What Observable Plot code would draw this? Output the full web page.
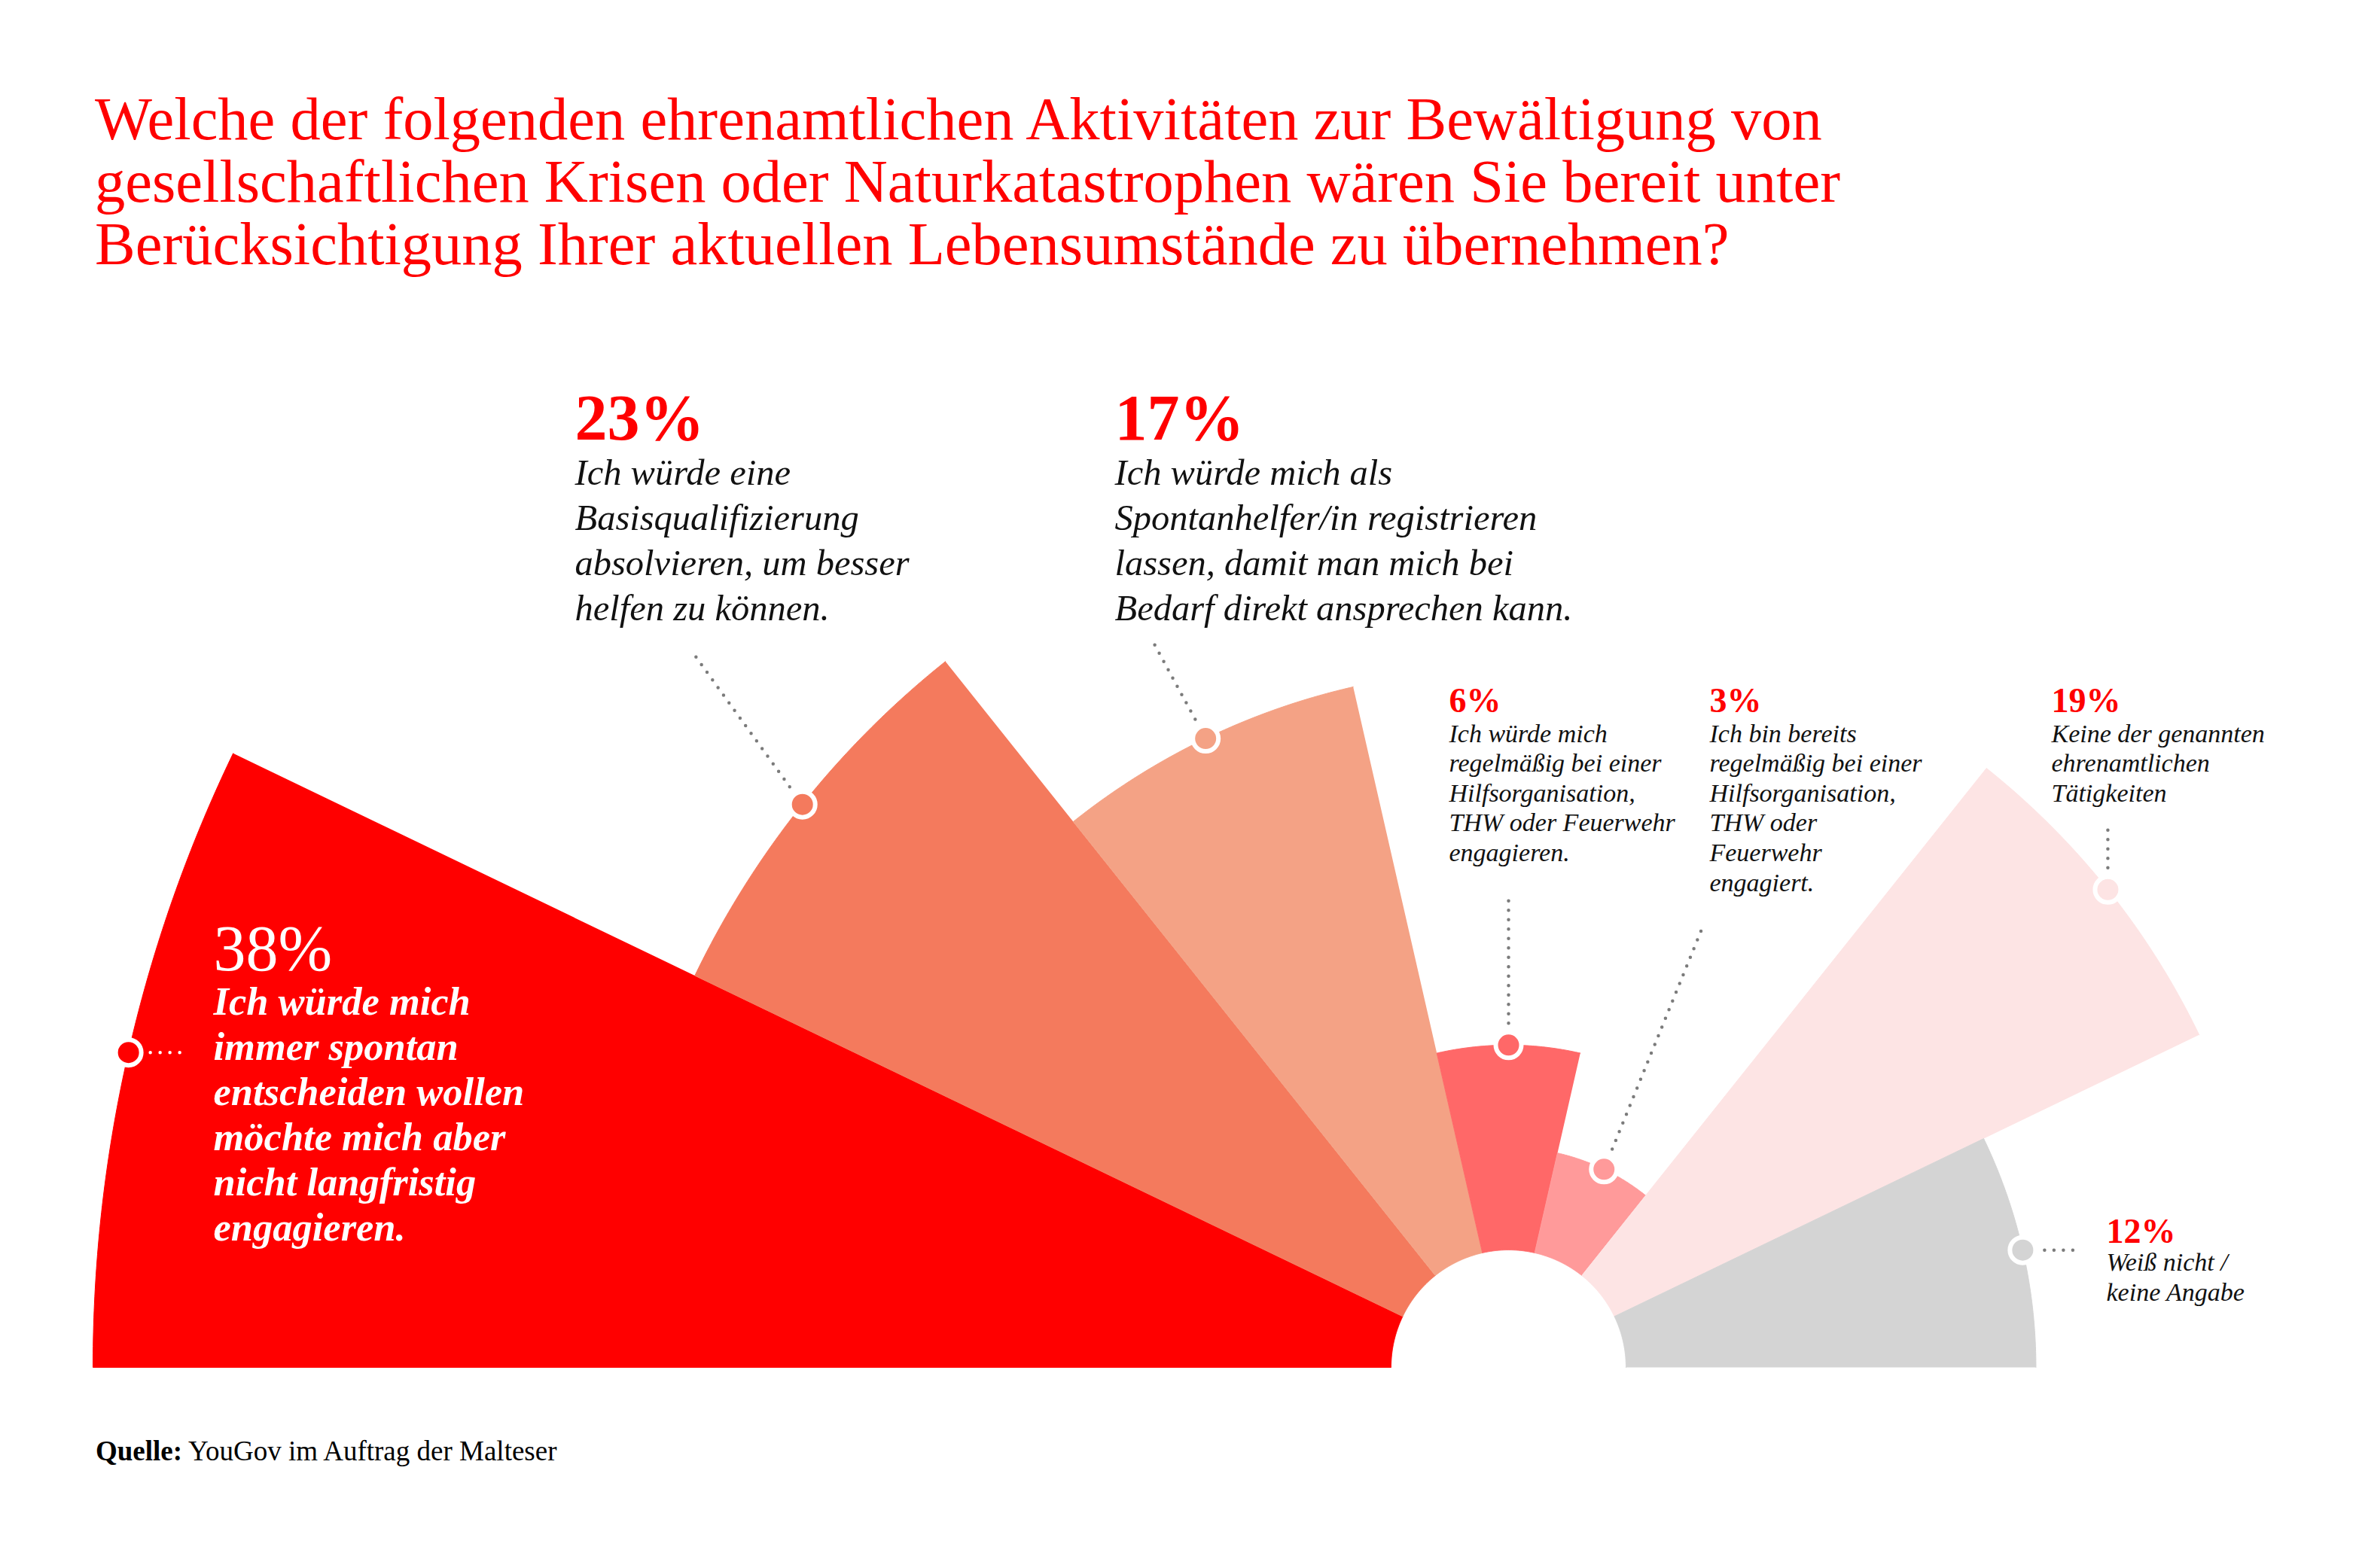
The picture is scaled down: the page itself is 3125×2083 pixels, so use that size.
<!DOCTYPE html>
<html>
<head>
<meta charset="utf-8">
<script src="https://cdn.jsdelivr.net/npm/d3@7"></script>
<script src="https://cdn.jsdelivr.net/npm/@observablehq/plot@0.6"></script>
<style>
  html, body { margin: 0; padding: 0; background: #fff; }
  #page { width: 3125px; height: 2083px; position: relative; background: #fff; }
  #title { box-sizing: border-box; height: 440px; padding: 116px 0 0 126px; font-family: "Liberation Serif", serif; font-size: 80.5px; line-height: 83px; color: #ff0000; white-space: nowrap; }
  #chart svg { display: block; }
  #caption { padding: 30px 0 0 127px; font-family: "Liberation Serif", serif; font-size: 37px; line-height: 36px; color: #000; }
</style>
</head>
<body>
<div id="page">
  <div id="title">Welche der folgenden ehrenamtlichen Aktivitäten zur Bewältigung von<br>gesellschaftlichen Krisen oder Naturkatastrophen wären Sie bereit unter<br>Berücksichtigung Ihrer aktuellen Lebensumstände zu übernehmen?</div>
  <div id="chart"></div>
  <div id="caption"><b>Quelle:</b> YouGov im Auftrag der Malteser</div>
</div>
<script>
// ---------- data ----------
const categories = [
  "spontan",
  "Basisqualifizierung",
  "Spontanhelfer",
  "regelmäßig",
  "bereits",
  "keine",
  "weiß nicht"
];
const values = [38, 23, 17, 6, 3, 19, 12];
const percentLabels = ["38%", "23%", "17%", "6%", "3%", "19%", "12%"];
const descriptions = [
  ["Ich würde mich", "immer spontan", "entscheiden wollen", "möchte mich aber", "nicht langfristig", "engagieren."],
  ["Ich würde eine", "Basisqualifizierung", "absolvieren, um besser", "helfen zu können."],
  ["Ich würde mich als", "Spontanhelfer/in registrieren", "lassen, damit man mich bei", "Bedarf direkt ansprechen kann."],
  ["Ich würde mich", "regelmäßig bei einer", "Hilfsorganisation,", "THW oder Feuerwehr", "engagieren."],
  ["Ich bin bereits", "regelmäßig bei einer", "Hilfsorganisation,", "THW oder", "Feuerwehr", "engagiert."],
  ["Keine der genannten", "ehrenamtlichen", "Tätigkeiten"],
  ["Weiß nicht /", "keine Angabe"]
];

// ---------- styles & layout ----------
const palette = ["#ff0000", "#f47a5d", "#f4a285", "#ff6868", "#ff9a9a", "#fde4e4", "#d4d4d4"];
const W = 3125, H = 1440, SVG_TOP = 440;
const CX = 2003, CY = 1816;          // page position of the chart centre
const INNER = 156, OUTER = 1880;     // radii in px
const FONT = "Liberation Serif";
// label blocks (page coordinates): x, baseline of percentage, first body baseline, line step, size
const labelLayout = [
  {x: 283,  pct: 1288, body: 1347, step: 60,  size: "big",   tone: "light"},
  {x: 763,  pct: 583,  body: 643,  step: 60,  size: "big",   tone: "dark"},
  {x: 1480, pct: 583,  body: 643,  step: 60,  size: "big",   tone: "dark"},
  {x: 1924, pct: 945,  body: 985,  step: 39.6, size: "small", tone: "dark"},
  {x: 2270, pct: 945,  body: 985,  step: 39.6, size: "small", tone: "dark"},
  {x: 2724, pct: 945,  body: 985,  step: 39.6, size: "small", tone: "dark"},
  {x: 2797, pct: 1650, body: 1687, step: 40,  size: "small", tone: "dark"}
];
// leader end points (page coordinates); null = same as the dot
const leaderEnds = [
  {x: 247, y: null}, {x: 920, y: 867}, {x: 1533, y: 856},
  {x: null, y: 1192}, {x: 2262, y: 1228}, {x: null, y: 1097}, {x: 2762, y: null}
];
const px2x = (px) => px - CX;
const py2y = (py) => CY - py;

// ---------- scales ----------
const angle = d3.scaleBand().domain(categories).range([Math.PI, 0]);
const radius = d3.scaleLinear().domain([0, d3.max(values)]).range([INNER, OUTER]);

// wedge outlines (arc tessellation of each sector)
const STEPS = 90;
const wedges = categories.flatMap((c, i) => {
  const a0 = angle(c), a1 = a0 + angle.bandwidth();
  const R = radius(values[i]);
  const outer = d3.range(STEPS + 1).map(k => a0 + (a1 - a0) * k / STEPS)
    .map(a => ({cat: c, x: R * Math.cos(a), y: R * Math.sin(a)}));
  const inner = d3.range(STEPS + 1).map(k => a1 - (a1 - a0) * k / STEPS)
    .map(a => ({cat: c, x: INNER * Math.cos(a), y: INNER * Math.sin(a)}));
  return [...outer, ...inner];
});

// dots at the middle of each outer arc
const dots = categories.map((c, i) => {
  const a = angle(c) + angle.bandwidth() / 2;
  const R = radius(values[i]);
  return {cat: c, i, x: R * Math.cos(a), y: R * Math.sin(a)};
});

// leaders
const leaders = dots.map((d, i) => {
  const e = leaderEnds[i];
  const x2 = e.x == null ? d.x : px2x(e.x);
  const y2 = e.y == null ? d.y : py2y(e.y);
  const dx = x2 - d.x, dy = y2 - d.y, len = Math.hypot(dx, dy);
  const gap = 29;
  return {i, x1: d.x + dx / len * gap, y1: d.y + dy / len * gap, x2, y2};
});

// text rows
const textRows = [];
labelLayout.forEach((L, i) => {
  textRows.push({kind: "pct", size: L.size, tone: L.tone, x: px2x(L.x), y: py2y(L.pct), text: percentLabels[i]});
  descriptions[i].forEach((line, k) => {
    textRows.push({kind: "body", size: L.size, tone: L.tone, x: px2x(L.x), y: py2y(L.body + k * L.step), text: line});
  });
});
const rows = (kind, size, tone) => textRows.filter(r => r.kind === kind && r.size === size && r.tone === tone);
const textOpts = {x: "x", y: "y", text: "text", textAnchor: "start", lineAnchor: "bottom", fontFamily: FONT};

const chart = Plot.plot({
  width: W,
  height: H,
  margin: 0,
  style: {background: "white", overflow: "visible"},
  x: {domain: [px2x(0), px2x(W)], axis: null},
  y: {domain: [py2y(SVG_TOP + H), py2y(SVG_TOP)], axis: null},
  color: {type: "ordinal", domain: categories, range: palette},
  marks: [
    Plot.line(wedges, {x: "x", y: "y", z: "cat", fill: "cat", stroke: "cat", strokeWidth: 1, curve: "linear"}),
    Plot.link(leaders.filter(d => d.i === 0), {x1: "x1", y1: "y1", x2: "x2", y2: "y2", stroke: "white", strokeWidth: 4.5, strokeDasharray: "0 13", strokeLinecap: "round"}),
    Plot.link(leaders.filter(d => d.i !== 0), {x1: "x1", y1: "y1", x2: "x2", y2: "y2", stroke: "#7b7b7b", strokeWidth: 4.5, strokeDasharray: "0 12.5", strokeLinecap: "round"}),
    Plot.dot(dots, {x: "x", y: "y", r: 17, fill: "cat", stroke: "white", strokeWidth: 6}),
    Plot.text(rows("pct", "big", "light"), {...textOpts, fill: "white", fontSize: 86}),
    Plot.text(rows("pct", "big", "dark"), {...textOpts, fill: "#ff0000", fontSize: 86, fontWeight: "bold"}),
    Plot.text(rows("body", "big", "light"), {...textOpts, fill: "white", fontSize: 52.5, fontWeight: "bold", fontStyle: "italic"}),
    Plot.text(rows("body", "big", "dark"), {...textOpts, fill: "#111", fontSize: 48.5, fontStyle: "italic"}),
    Plot.text(rows("pct", "small", "dark"), {...textOpts, fill: "#ff0000", fontSize: 46, fontWeight: "bold"}),
    Plot.text(rows("body", "small", "dark"), {...textOpts, fill: "#111", fontSize: 34, fontStyle: "italic"})
  ]
});
document.getElementById("chart").appendChild(chart);
</script>
</body>
</html>
